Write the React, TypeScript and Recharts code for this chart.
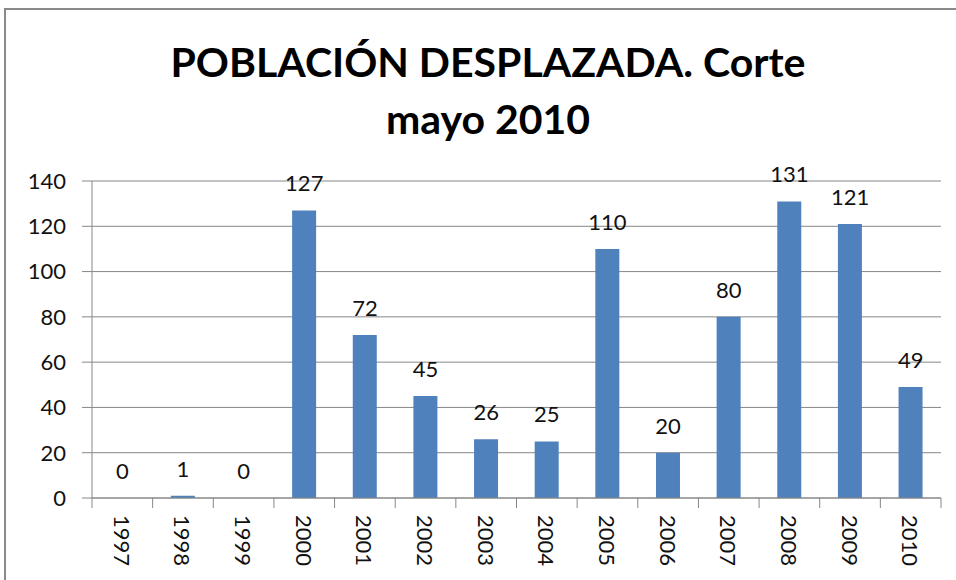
import { ComposedChart, Bar, Line, XAxis, YAxis, CartesianGrid, LabelList } from 'recharts';

const years = ['1997', '1998', '1999', '2000', '2001', '2002', '2003', '2004', '2005', '2006', '2007', '2008', '2009', '2010'];
const displaced = [0, 1, 0, 127, 72, 45, 26, 25, 110, 20, 80, 131, 121, 49];
const yTicks = [0, 20, 40, 60, 80, 100, 120, 140];

const titleLines = ['POBLACIÓN DESPLAZADA. Corte', 'mayo 2010'];

const data = years.map((year, i) => ({ year, value: displaced[i] }));

const FONT = 'Lato, "Open Sans", sans-serif';
const GRID = '#878787';

function YearTick(props: any) {
  const { x, y, payload, index, visibleTicksCount } = props;
  const half = payload?.offset ?? 0;
  const ty = y + 17;
  return (
    <g>
      <line x1={x - half} y1={y} x2={x - half} y2={y + 10} stroke={GRID} strokeWidth={1} />
      {index === visibleTicksCount - 1 && (
        <line x1={x + half} y1={y} x2={x + half} y2={y + 10} stroke={GRID} strokeWidth={1} />
      )}
      <text
        x={x}
        y={ty}
        transform={`rotate(90 ${x} ${ty})`}
        textAnchor="start"
        dominantBaseline="central"
        fontSize={22}
        fontFamily={FONT}
        fill="#111"
      >
        {payload.value}
      </text>
    </g>
  );
}

export default function App() {
  return (
    <div style={{ position: 'absolute', left: 0, top: 0, width: 956, height: 580, overflow: 'hidden', background: '#fff' }}>
      <div
        style={{
          position: 'absolute',
          left: 4,
          top: 8,
          width: 1000,
          height: 1000,
          border: '2px solid #8a8a8a',
        }}
      />
      <div
        style={{
          position: 'absolute',
          left: 0,
          top: 33,
          width: 976,
          textAlign: 'center',
          fontFamily: FONT,
          fontWeight: 700,
          fontSize: 41,
          lineHeight: '57px',
          color: '#000',
        }}
      >
        {titleLines.map((t) => (
          <div key={t}>{t}</div>
        ))}
      </div>
      <div style={{ position: 'absolute', left: 0, top: 0 }}>
        <ComposedChart
          width={956}
          height={580}
          data={data}
          margin={{ top: 181, right: 15, bottom: 0, left: 0 }}
          barCategoryGap="30%"
        >
          <CartesianGrid vertical={false} stroke={GRID} strokeWidth={1} />
          <XAxis
            dataKey="year"
            height={82}
            interval={0}
            tickLine={false}
            tickSize={0}
            tickMargin={0}
            axisLine={{ stroke: GRID }}
            tick={<YearTick />}
          />
          <YAxis
            width={92}
            domain={[0, 140]}
            ticks={yTicks}
            interval={0}
            tickSize={10}
            tickMargin={16}
            axisLine={{ stroke: GRID }}
            tickLine={{ stroke: GRID }}
            tick={{ fontSize: 22, fontFamily: FONT, fill: '#111' }}
          />
          <Bar dataKey="value" fill="#4F81BD" isAnimationActive={false} />
          <Line dataKey="value" stroke="none" dot={false} activeDot={false} isAnimationActive={false}>
            <LabelList dataKey="value" position="top" offset={19} fontSize={22} fontFamily={FONT} fill="#111" />
          </Line>
        </ComposedChart>
      </div>
    </div>
  );
}
